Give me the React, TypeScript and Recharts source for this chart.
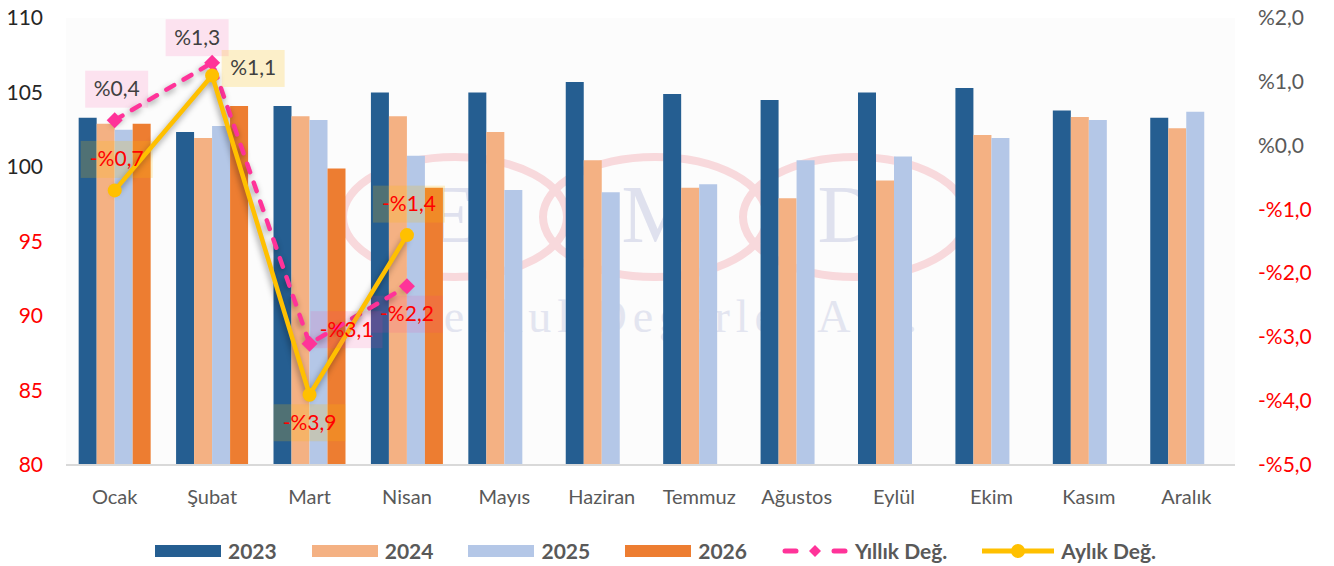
import React from "react";
import {
  ComposedChart,
  Bar,
  Line,
  XAxis,
  YAxis,
  Legend,
  LabelList,
} from "recharts";

const months = ["Ocak", "Şubat", "Mart", "Nisan", "Mayıs", "Haziran", "Temmuz", "Ağustos", "Eylül", "Ekim", "Kasım", "Aralık"];
const idx2023 = [103.3, 102.35, 104.1, 105.0, 105.0, 105.7, 104.9, 104.5, 105.0, 105.3, 103.8, 103.3];
const idx2024 = [102.9, 101.95, 103.4, 103.4, 102.35, 100.45, 98.6, 97.9, 99.1, 102.15, 103.35, 102.6];
const idx2025 = [102.5, 102.75, 103.15, 100.75, 98.45, 98.3, 98.85, 100.45, 100.7, 101.95, 103.15, 103.7];
const idx2026 = [102.9, 104.1, 99.9, 98.6, null, null, null, null, null, null, null, null];
const yillik = [0.4, 1.3, -3.1, -2.2, null, null, null, null, null, null, null, null];
const aylik = [-0.7, 1.1, -3.9, -1.4, null, null, null, null, null, null, null, null];

const leftTicks = [80, 85, 90, 95, 100, 105, 110];
const rightTicks = [-5, -4, -3, -2, -1, 0, 1, 2];

// where each data label box sits relative to its point
const yillikPlacement = ["top", "topLeft", "right", "bottom"];
const aylikPlacement = ["top", "farRight", "bottom", "top"];
const OFFSETS: Record<string, [number, number]> = {
  top: [2, -31],
  topLeft: [-15, -25],
  right: [37, -14],
  farRight: [41, -7],
  bottom: [0, 28],
};

const C2023 = "#255E91";
const C2024 = "#F4B183";
const C2025 = "#B4C7E7";
const C2026 = "#ED7D31";
const PINK = "#FF3399";
const YELLOW = "#FFC000";
const FONT = "Lato, 'Open Sans', sans-serif";

const data = months.map((m, i) => ({
  month: m,
  y2023: idx2023[i],
  y2024: idx2024[i],
  y2025: idx2025[i],
  y2026: idx2026[i],
  yillik: yillik[i],
  aylik: aylik[i],
}));

function fmtPct(v: number) {
  return (v < 0 ? "-%" : "%") + Math.abs(v).toFixed(1).replace(".", ",");
}

function LeftTick(props: any) {
  const { x, y, payload } = props;
  return (
    <text x={x} y={y} dy={7} textAnchor="end" fontSize={21} fontFamily={FONT}
      fill={payload.value >= 100 ? "#262626" : "#FF0000"}>
      {payload.value}
    </text>
  );
}

function RightTick(props: any) {
  const { x, y, payload } = props;
  return (
    <text x={x} y={y} dy={7} textAnchor="start" fontSize={21} fontFamily={FONT}
      fill={payload.value >= 0 ? "#595959" : "#FF0000"}>
      {fmtPct(payload.value)}
    </text>
  );
}

function boxLabel(placements: string[], color: string, opacity: number) {
  return (props: any) => {
    const { value, index } = props;
    if (value == null) return null;
    const x = props.x ?? props.viewBox?.x;
    const y = props.y ?? props.viewBox?.y;
    const [dx, dy] = OFFSETS[placements[index]] || [0, -30];
    const w = value < 0 ? 72 : 63;
    const h = 37;
    const cx = x + dx;
    const cy = y + dy;
    return (
      <g>
        <rect x={cx - w / 2} y={cy - h / 2} width={w} height={h} fill={color} fillOpacity={opacity} />
        <text x={cx} y={cy} dy={7} textAnchor="middle" fontSize={21} fontFamily={FONT}
          fill={value < 0 ? "#FF0000" : "#404040"}>
          {fmtPct(value)}
        </text>
      </g>
    );
  };
}

function Diamond(props: any) {
  const { cx, cy, value } = props;
  if (value == null || cx == null) return null;
  const s = 8;
  return <polygon points={`${cx},${cy - s} ${cx + s},${cy} ${cx},${cy + s} ${cx - s},${cy}`} fill={PINK} />;
}

function Circle(props: any) {
  const { cx, cy, value } = props;
  if (value == null || cx == null) return null;
  return <circle cx={cx} cy={cy} r={7} fill={YELLOW} />;
}

const legendItems = [
  { label: "2023", kind: "rect", color: C2023 },
  { label: "2024", kind: "rect", color: C2024 },
  { label: "2025", kind: "rect", color: C2025 },
  { label: "2026", kind: "rect", color: C2026 },
  { label: "Yıllık Değ.", kind: "dash", color: PINK },
  { label: "Aylık Değ.", kind: "line", color: YELLOW },
];

function LegendContent() {
  return (
    <div style={{ display: "flex", alignItems: "center", paddingLeft: 155, paddingTop: 11, height: 29 }}>
      {legendItems.map((it) => (
        <div key={it.label} style={{ display: "flex", alignItems: "center", marginRight: 35 }}>
          {it.kind === "rect" && (
            <svg width={66} height={14}><rect x={0} y={1} width={66} height={12} fill={it.color} /></svg>
          )}
          {it.kind === "dash" && (
            <svg width={66} height={16}>
              <line x1={3} y1={8} x2={14} y2={8} stroke={it.color} strokeWidth={5} strokeLinecap="round" />
              <line x1={52} y1={8} x2={63} y2={8} stroke={it.color} strokeWidth={5} strokeLinecap="round" />
              <polygon points="33,2 39,8 33,14 27,8" fill={it.color} />
            </svg>
          )}
          {it.kind === "line" && (
            <svg width={72} height={16}>
              <line x1={0} y1={8} x2={72} y2={8} stroke={it.color} strokeWidth={5} />
              <circle cx={36} cy={8} r={7} fill={it.color} />
            </svg>
          )}
          <span style={{ marginLeft: 7, fontFamily: FONT, fontWeight: 700, fontSize: 21, color: "#595959" }}>
            {it.label}
          </span>
        </div>
      ))}
    </div>
  );
}

function Watermark() {
  return (
    <svg width={1334} height={566} style={{ position: "absolute", left: 0, top: 0 }}>
      <rect x={66} y={18} width={1169} height={447} fill="#FCFCFC" />
      {[455, 655, 855].map((cx) => (
        <ellipse key={cx} cx={cx} cy={217} rx={112} ry={60} fill="none" stroke="#F8D9DC" strokeWidth={8} />
      ))}
      {[["E", 452], ["M", 658], ["D", 847]].map(([t, x]) => (
        <text key={t as string} x={x as number} y={242} textAnchor="middle" fontSize={82}
          fontFamily="'Liberation Serif', serif" fill="#DFE1EE">
          {t}
        </text>
      ))}
      <text x={660} y={332} textAnchor="middle" fontSize={46} letterSpacing={6}
        fontFamily="'Liberation Serif', serif" fill="#E3E5F0">
        Menkul Değerler A.Ş.
      </text>
    </svg>
  );
}

export default function App() {
  return (
    <div style={{ position: "absolute", left: 0, top: 0, width: 1334, height: 566, background: "#fff" }}>
      <style>{`.recharts-line-curve{filter:drop-shadow(-1px 3px 3px rgba(0,0,0,0.4));}`}</style>
      <Watermark />
      <div style={{ position: "absolute", left: 0, top: 0 }}>
        <ComposedChart
          width={1334}
          height={566}
          data={data}
          margin={{ top: 18, right: 0, bottom: 0, left: 0 }}
          barCategoryGap="13%"
          barGap={0}
        >
          <XAxis
            dataKey="month"
            height={60}
            axisLine={{ stroke: "#D9D9D9", strokeWidth: 2 }}
            tickLine={false}
            tickMargin={19}
            tick={{ fill: "#595959", fontSize: 20, fontFamily: FONT }}
            interval={0}
          />
          <YAxis yAxisId="left" width={66} domain={[80, 110]} ticks={leftTicks}
            axisLine={false} tickLine={false} tickMargin={17} tick={<LeftTick />} />
          <YAxis yAxisId="right" orientation="right" width={99} domain={[-5, 2]} ticks={rightTicks}
            axisLine={false} tickLine={false} tickMargin={17} tick={<RightTick />} />
          <Legend verticalAlign="bottom" height={41} content={<LegendContent />} />
          <Bar yAxisId="left" dataKey="y2023" fill={C2023} isAnimationActive={false} />
          <Bar yAxisId="left" dataKey="y2024" fill={C2024} isAnimationActive={false} />
          <Bar yAxisId="left" dataKey="y2025" fill={C2025} isAnimationActive={false} />
          <Bar yAxisId="left" dataKey="y2026" fill={C2026} isAnimationActive={false} />
          <Line yAxisId="right" dataKey="yillik" stroke={PINK} strokeWidth={4.5}
            strokeDasharray="9 11" strokeLinecap="round" dot={<Diamond />} activeDot={false}
            isAnimationActive={false}>
            <LabelList dataKey="yillik" content={boxLabel(yillikPlacement, PINK, 0.13)} />
          </Line>
          <Line yAxisId="right" dataKey="aylik" stroke={YELLOW} strokeWidth={4.5}
            dot={<Circle />} activeDot={false} isAnimationActive={false}>
            <LabelList dataKey="aylik" content={boxLabel(aylikPlacement, YELLOW, 0.2)} />
          </Line>
        </ComposedChart>
      </div>
    </div>
  );
}
